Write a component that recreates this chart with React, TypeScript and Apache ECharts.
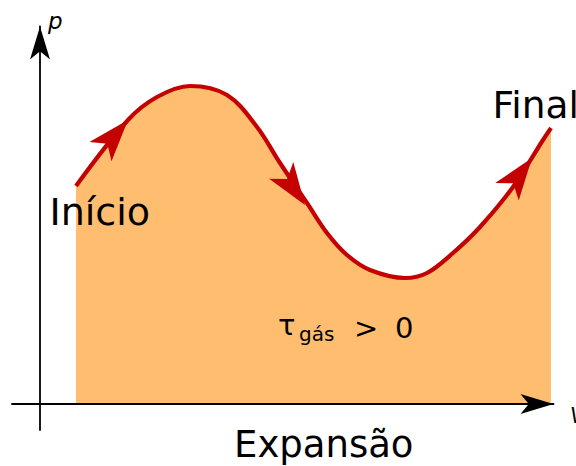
import React, { useEffect, useRef } from "react";
import * as echarts from "echarts";

// Curve p(V) (units: V along x, p along y)
const curveV = [36, 88, 117, 150, 187, 217, 240, 267, 287, 307, 330, 365, 387, 413, 440, 473, 503, 511];
const curveP = [218, 284, 307, 318, 309, 277, 241, 201, 171, 149, 134, 126, 131, 151, 177, 217, 264, 276];

// Direction arrows placed on the curve (tip positions)
const arrowV = [88, 265, 492];
const arrowP = [284, 199, 246];
const arrowAngle = [-41, -145.5, -36.6];

// Axis ranges
const vRange = [-28, 513.5];
const pRange = [-26, 377.5];

// Texts
const axisNames = ["p", "V"];
const pointLabels = ["Início", "Final"];
const workLabel = ["τ", "gás", ">", "0"];
const processLabel = "Expansão";

const RED = "#c40000";
const ORANGE = "#ffbe6f";
const FONT = '"DejaVu Sans", Verdana, sans-serif';

export default function App() {
  const ref = useRef<HTMLDivElement>(null);

  useEffect(() => {
    if (!ref.current) return;
    const chart = echarts.init(ref.current, undefined, { renderer: "svg" });

    const txt = (text: string, x: number, y: number, size: number, italic = false) => ({
      type: "text",
      x,
      y,
      z: 10,
      style: {
        text,
        fontSize: size,
        fontFamily: FONT,
        fontStyle: italic ? "italic" : "normal",
        fill: "#000",
        align: "left",
        verticalAlign: "middle",
      },
    });

    const axisCommon = {
      type: "value" as const,
      z: 5,
      axisLine: {
        show: true,
        onZero: true,
        symbol: ["none", "arrow"],
        symbolSize: [15, 33],
        lineStyle: { color: "#000", width: 1.8 },
      },
      axisTick: { show: false },
      axisLabel: { show: false },
      splitLine: { show: false },
    };

    chart.setOption({
      animation: false,
      backgroundColor: "#fff",
      grid: { left: 12, right: 22.5, top: 26.5, bottom: 36, containLabel: false, outerBoundsMode: "none" },
      xAxis: { ...axisCommon, min: vRange[0], max: vRange[1] },
      yAxis: { ...axisCommon, min: pRange[0], max: pRange[1] },
      series: [
        {
          type: "line",
          data: curveV.map((v, i) => [v, curveP[i]]),
          smooth: 0.35,
          symbol: "none",
          lineStyle: { color: RED, width: 4.2 },
          areaStyle: { color: ORANGE, opacity: 1 },
          z: 2,
        },
        {
          type: "scatter",
          data: arrowV.map((v, i) => ({ value: [v, arrowP[i]], symbolRotate: arrowAngle[i] })),
          symbol: "arrow",
          symbolSize: [22, 42],
          itemStyle: { color: RED, opacity: 1 },
          z: 3,
        },
      ],
      graphic: [
        txt(axisNames[0], 48, 21, 23, true),
        txt(axisNames[1], 570, 415.7, 21, true),
        txt(pointLabels[0], 49.5, 212, 38),
        txt(pointLabels[1], 492.5, 105, 37.5),
        txt(workLabel[0], 278, 325, 29),
        txt(workLabel[1], 299, 334, 20),
        txt(workLabel[2], 354, 328, 29),
        txt(workLabel[3], 395, 328, 29),
        txt(processLabel, 234, 444, 37),
      ],
    });

    return () => chart.dispose();
  }, []);

  return (
    <div
      ref={ref}
      style={{ position: "absolute", left: 0, top: 0, width: 576, height: 466 }}
    />
  );
}
